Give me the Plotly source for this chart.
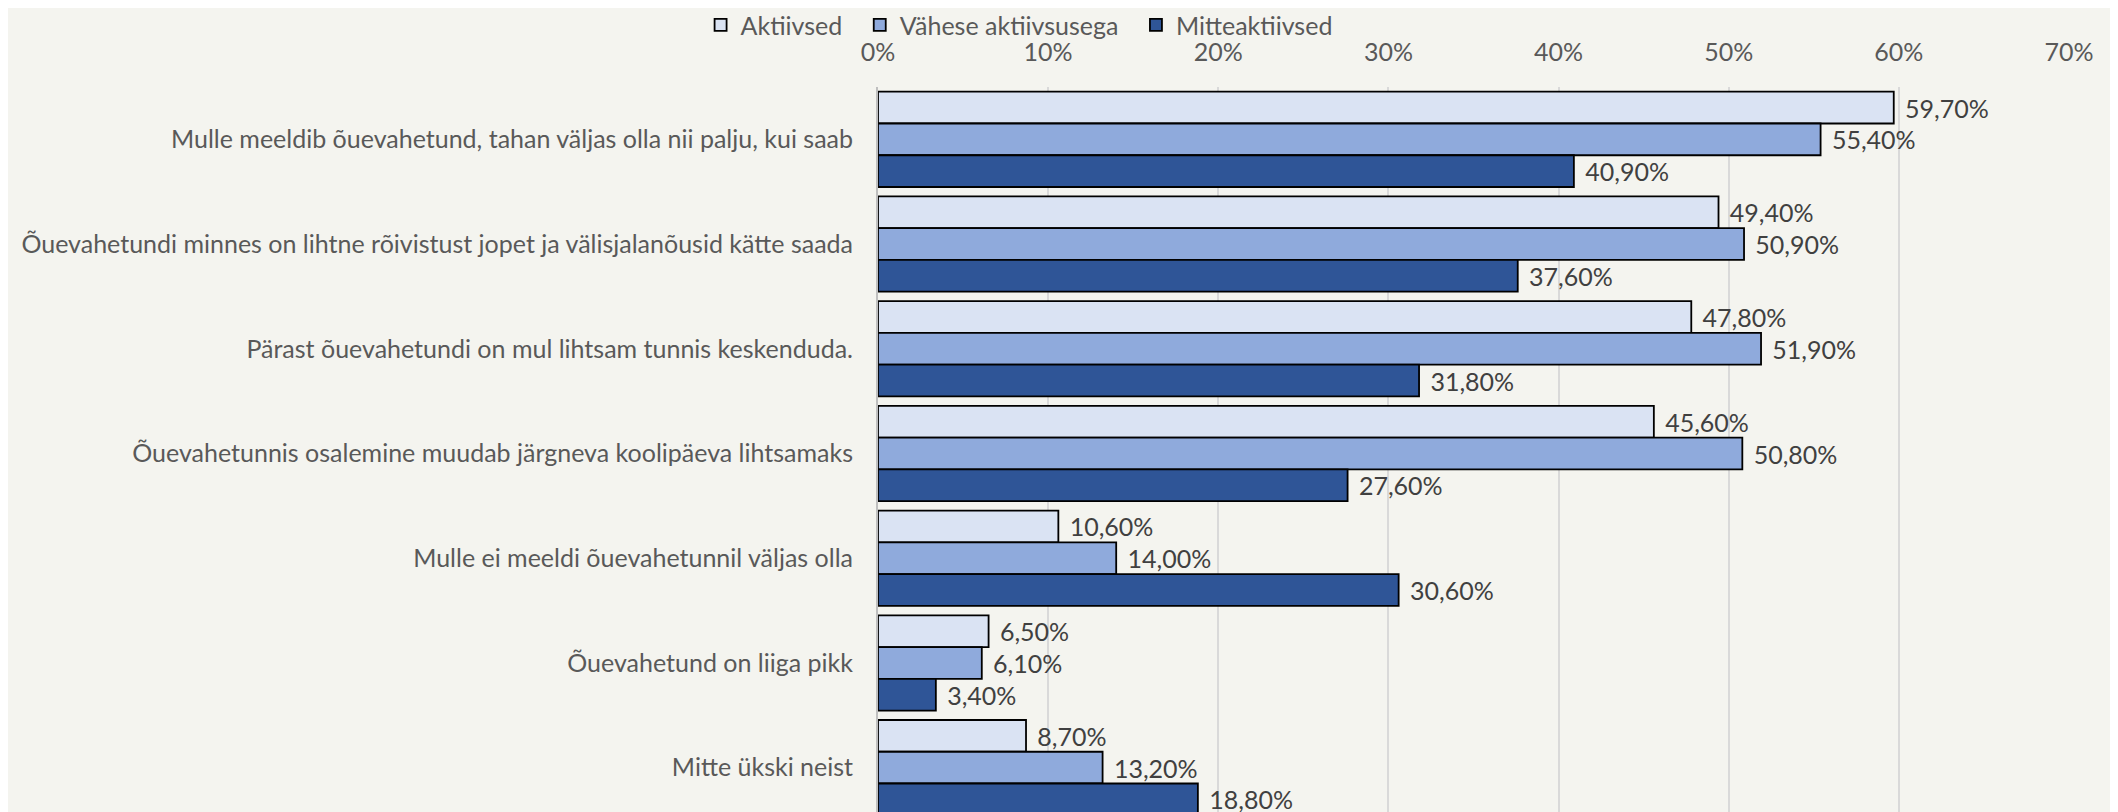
import plotly.graph_objects as go

categories = [
    "Mulle meeldib õuevahetund, tahan väljas olla nii palju, kui saab",
    "Õuevahetundi minnes on lihtne rõivistust jopet ja välisjalanõusid kätte saada",
    "Pärast õuevahetundi on mul lihtsam tunnis keskenduda.",
    "Õuevahetunnis osalemine muudab järgneva koolipäeva lihtsamaks",
    "Mulle ei meeldi õuevahetunnil väljas olla",
    "Õuevahetund on liiga pikk",
    "Mitte ükski neist",
]
series_names = ["Aktiivsed", "Vähese aktiivsusega", "Mitteaktiivsed"]
aktiivsed = [59.7, 49.4, 47.8, 45.6, 10.6, 6.5, 8.7]
vahese = [55.4, 50.9, 51.9, 50.8, 14.0, 6.1, 13.2]
mitte = [40.9, 37.6, 31.8, 27.6, 30.6, 3.4, 18.8]
tick_vals = [0, 10, 20, 30, 40, 50, 60, 70]
tick_text = ["0%", "10%", "20%", "30%", "40%", "50%", "60%", "70%"]

colors = ["#DAE3F3", "#8FAADC", "#2F5597"]
font_family = "Lato, 'Open Sans', sans-serif"
FS = 25

fig = go.Figure()
for i, (name, vals, col) in enumerate(zip(series_names, [aktiivsed, vahese, mitte], colors)):
    fig.add_trace(go.Bar(
        y=categories, x=vals, name=name + ("\u2002" if i < 2 else ""), orientation="h",
        marker=dict(color=col, line=dict(color="#000000", width=1.8)),
        text=["\u2004" + f"{v:.2f}".replace(".", ",") + "%" for v in vals],
        textposition="outside",
        textfont=dict(size=FS, color="#404040", family=font_family),
        cliponaxis=False,
    ))

fig.update_layout(
    width=2118, height=812,
    barmode="group", bargap=0.09, bargroupgap=0,
    paper_bgcolor="#F4F4EF", plot_bgcolor="#F4F4EF",
    margin=dict(l=870, r=57, t=79, b=0, autoexpand=False),
    font=dict(family=font_family, size=FS, color="#595959"),
    legend=dict(orientation="h", x=0.327, xref="container", xanchor="left",
                y=0.979, yref="container", yanchor="middle",
                font=dict(size=FS, color="#595959"),
                traceorder="normal", itemwidth=30, bgcolor="rgba(0,0,0,0)"),
)
fig.update_xaxes(
    side="top", range=[0, 70], tickvals=tick_vals, ticktext=tick_text,
    showgrid=True, gridcolor="#D9D9D9", gridwidth=1.5,
    zeroline=False, showline=False, ticks="", automargin=False,
    ticklabelstandoff=20,
    tickfont=dict(size=FS, color="#595959"),
)
fig.update_yaxes(
    range=[6.5, -0.5], showgrid=False, showline=True, linecolor="#BFBFBF", linewidth=2,
    ticks="", ticklabelstandoff=18, tickfont=dict(size=FS, color="#595959"),
    automargin=False,
)

fig.write_html("out.html")
